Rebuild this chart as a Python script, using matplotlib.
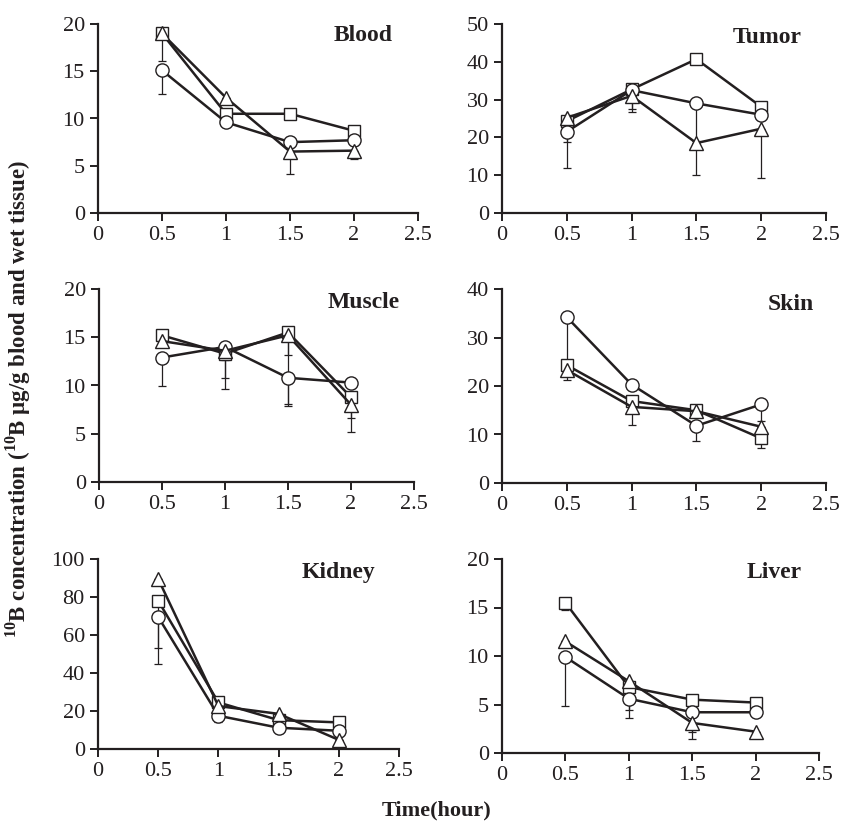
import numpy as np
import matplotlib
matplotlib.use("Agg")
import matplotlib.pyplot as plt

plt.rcParams['font.family'] = ['Liberation Serif', 'DejaVu Serif']
plt.rcParams['mathtext.fontset'] = 'custom'
plt.rcParams['mathtext.rm'] = 'Liberation Serif:bold'
plt.rcParams['mathtext.bf'] = 'Liberation Serif:bold'

time = [0.5, 1.0, 1.5, 2.0]

organs = ["Blood", "Tumor", "Muscle", "Skin", "Kidney", "Liver"]
ymax = [20, 50, 20, 40, 100, 20]
ystep = [5, 10, 5, 10, 20, 5]

sq = {
    "Blood": [19.0, 10.5, 10.5, 8.7],
    "Tumor": [24.3, 32.7, 40.7, 28.1],
    "Muscle": [15.2, 13.3, 15.5, 8.8],
    "Skin": [24.3, 16.9, 15.0, 9.2],
    "Kidney": [78.0, 24.5, 15.2, 14.0],
    "Liver": [15.5, 6.8, 5.5, 5.2],
}
ci = {
    "Blood": [15.1, 9.6, 7.5, 7.7],
    "Tumor": [21.5, 32.5, 29.0, 26.0],
    "Muscle": [12.9, 14.0, 10.8, 10.3],
    "Skin": [34.2, 20.3, 11.8, 16.2],
    "Kidney": [69.5, 17.5, 11.2, 9.6],
    "Liver": [9.9, 5.6, 4.2, 4.2],
}
tr = {
    "Blood": [19.0, 12.2, 6.5, 6.6],
    "Tumor": [25.2, 31.0, 18.5, 22.3],
    "Muscle": [14.6, 13.6, 15.2, 8.0],
    "Skin": [23.3, 15.7, 14.8, 11.6],
    "Kidney": [89.5, 22.6, 18.5, 4.8],
    "Liver": [11.5, 7.4, 3.1, 2.2],
}
# one-sided (lower) standard deviations
sq_err = {
    "Blood": [2.9, 0, 0, 0],
    "Tumor": [0, 0, 0, 0],
    "Muscle": [0, 0.7, 7.6, 2.2],
    "Skin": [0, 0, 0, 1.9],
    "Kidney": [25.0, 0, 0, 0],
    "Liver": [0.8, 0, 0, 0],
}
ci_err = {
    "Blood": [2.5, 0, 0, 0],
    "Tumor": [9.7, 5.0, 10.0, 0],
    "Muscle": [3.0, 4.4, 2.7, 0],
    "Skin": [10.0, 0, 3.2, 3.4],
    "Kidney": [25.0, 3.5, 2.7, 0],
    "Liver": [5.1, 2.0, 2.0, 0],
}
tr_err = {
    "Blood": [0, 0, 2.4, 0.9],
    "Tumor": [6.5, 4.2, 8.5, 13.0],
    "Muscle": [0, 2.8, 2.0, 2.8],
    "Skin": [2.1, 3.7, 0, 0],
    "Kidney": [0, 0, 0, 0],
    "Liver": [0, 3.0, 1.7, 0],
}

# axes boxes in pixels: left, right, top, bottom
boxes = [(98, 418, 24, 213), (502, 826, 24, 213),
         (99, 414, 289, 482), (502, 826, 289, 483),
         (98, 399, 559, 749), (502, 819, 559, 753)]
label_pos = [(0.83, 0.94), (0.82, 0.93), (0.84, 0.93),
             (0.89, 0.92), (0.80, 0.93), (0.86, 0.93)]

W, H = 842, 822
fig = plt.figure(figsize=(W / 100, H / 100), dpi=100)
ink = '#231f20'

for i, org in enumerate(organs):
    l, r, t, b = boxes[i]
    ax = fig.add_axes([l / W, (H - b) / H, (r - l) / W, (b - t) / H])
    for vals, errs, mk, ms in [(sq[org], sq_err[org], 's', 8.5),
                               (ci[org], ci_err[org], 'o', 9.5),
                               (tr[org], tr_err[org], '^', 9.5)]:
        vals = np.array(vals)
        errs = np.array(errs)
        ax.errorbar(time, vals, yerr=[errs, np.zeros_like(errs)], fmt='none',
                    ecolor=ink, elinewidth=0.9, capsize=3, capthick=0.9, zorder=2)
        ax.plot(time, vals, marker=mk, ms=ms, mfc='white', mec=ink, mew=1.0,
                color=ink, lw=1.8, zorder=3)
    ax.set_xlim(0, 2.5)
    ax.set_ylim(0, ymax[i])
    ax.set_xticks([0, 0.5, 1, 1.5, 2, 2.5])
    ax.set_xticklabels(["0", "0.5", "1", "1.5", "2", "2.5"])
    ax.set_yticks(np.arange(0, ymax[i] + 1, ystep[i]))
    for s in ['top', 'right']:
        ax.spines[s].set_visible(False)
    for s in ['left', 'bottom']:
        ax.spines[s].set_linewidth(1.6)
        ax.spines[s].set_color(ink)
    ax.tick_params(direction='out', length=5.5, width=1.4, colors=ink,
                   labelsize=16, pad=4)
    ax.patch.set_alpha(0)
    lx, ly = label_pos[i]
    ax.text(lx, ly, org, transform=ax.transAxes, ha='center', va='center',
            fontsize=17, fontweight='bold', color=ink)

fig.text(18 / W, 1 - 399 / H,
         r"$^{10}$B concentration ($^{10}$B μg/g blood and wet tissue)",
         rotation=90, ha='center', va='center', fontsize=16.5,
         fontweight='bold', color=ink)
fig.text(437 / W, 1 - 810 / H, "Time(hour)", ha='center', va='center',
         fontsize=16, fontweight='bold', color=ink)

fig.savefig("out.png", dpi=100)
